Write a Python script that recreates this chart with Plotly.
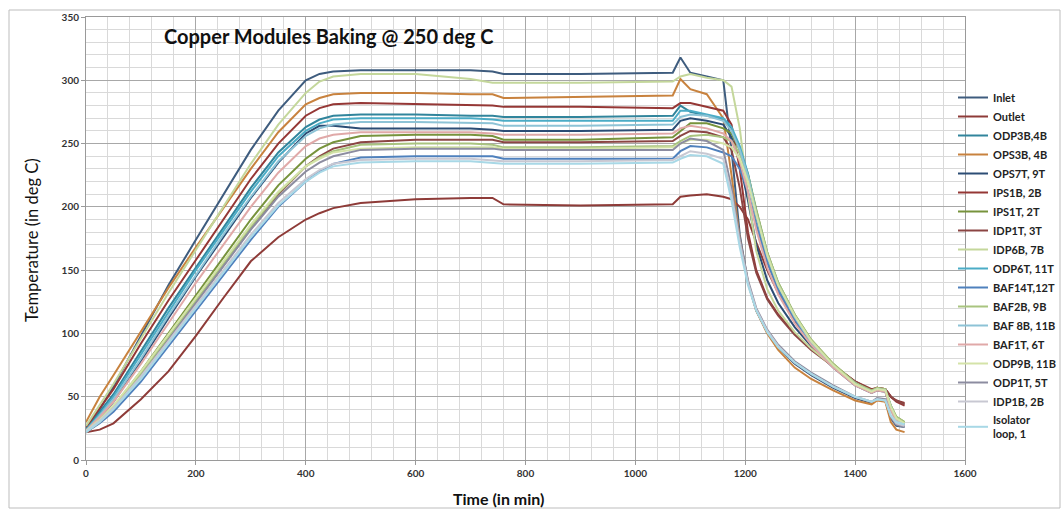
import plotly.graph_objects as go

# ---------------- data ----------------
time_min = [0, 25, 50, 100, 150, 200, 250, 300, 350, 400, 425, 450, 500,
            600, 700, 740, 760, 900, 1068,
            1082, 1100, 1130, 1160,
            1175, 1190, 1205, 1220, 1240, 1260, 1290, 1320, 1360, 1400, 1430, 1440, 1455, 1465, 1475, 1490]

inlet    = [24, 40, 58, 98, 138, 174, 210, 245, 276, 300, 305, 307, 308, 308, 308, 307, 305, 305, 306, 318, 306, 303, 300, 245, 178, 140, 118, 101, 89, 76, 67, 57, 49, 45, 48, 47, 33, 27, 26]
outlet   = [22, 24, 29, 48, 70, 98, 128, 157, 176, 190, 195, 199, 203, 206, 207, 207, 202, 201, 202, 208, 209, 210, 208, 206, 200, 190, 172, 150, 132, 110, 92, 75, 62, 56, 57, 56, 50, 47, 45]
odp3b_4b = [25, 38, 52, 86, 120, 152, 184, 215, 243, 263, 269, 272, 273, 273, 272, 272, 271, 271, 272, 280, 275, 272, 269, 262, 245, 222, 192, 160, 137, 112, 93, 74, 60, 54, 56, 55, 42, 33, 29]
ops3b_4b = [30, 50, 67, 101, 136, 168, 199, 230, 259, 281, 286, 289, 290, 290, 289, 289, 286, 287, 288, 301, 293, 289, 270, 225, 175, 140, 118, 100, 87, 73, 64, 55, 47, 44, 47, 46, 30, 24, 22]
ops7t_9t = [22, 33, 46, 78, 112, 145, 176, 207, 235, 258, 264, 264, 262, 262, 262, 261, 260, 260, 261, 268, 270, 268, 265, 255, 235, 205, 170, 142, 124, 105, 90, 73, 59, 53, 55, 54, 40, 31, 27]
ips1b_2b = [26, 41, 56, 92, 126, 158, 190, 222, 250, 272, 278, 281, 282, 281, 280, 280, 279, 279, 278, 282, 282, 279, 276, 265, 230, 180, 150, 128, 115, 100, 88, 75, 62, 55, 57, 56, 50, 46, 43]
ips1t_2t = [22, 31, 42, 70, 100, 130, 160, 190, 217, 238, 246, 251, 256, 257, 257, 256, 253, 253, 255, 260, 266, 266, 262, 258, 245, 226, 198, 164, 140, 115, 95, 76, 61, 55, 56, 55, 43, 34, 30]
idp1t_3t = [22, 30, 40, 66, 95, 124, 154, 183, 210, 232, 240, 246, 251, 253, 253, 253, 251, 251, 252, 256, 260, 259, 255, 245, 215, 175, 148, 127, 114, 99, 87, 74, 62, 55, 57, 56, 50, 47, 44]
idp6b_7b = [27, 44, 60, 96, 132, 166, 200, 234, 265, 290, 299, 303, 305, 305, 301, 298, 298, 298, 299, 303, 305, 302, 300, 295, 262, 210, 165, 135, 118, 101, 88, 74, 61, 54, 56, 55, 40, 31, 28]
odp6t_11t = [24, 36, 50, 83, 117, 150, 181, 212, 240, 260, 266, 269, 270, 270, 270, 269, 268, 268, 268, 276, 276, 273, 270, 263, 248, 226, 196, 163, 139, 114, 94, 75, 61, 54, 56, 55, 42, 33, 29]
baf14t_12t = [22, 29, 38, 62, 90, 118, 146, 174, 200, 220, 228, 234, 239, 240, 240, 240, 238, 238, 238, 244, 248, 247, 243, 240, 230, 212, 186, 156, 134, 111, 92, 74, 60, 54, 56, 55, 41, 32, 28]
baf2b_9b = [22, 30, 41, 68, 97, 126, 155, 184, 211, 232, 239, 244, 249, 250, 250, 249, 247, 247, 248, 252, 256, 257, 255, 252, 242, 224, 197, 164, 140, 115, 95, 76, 61, 55, 57, 56, 43, 34, 30]
baf8b_11b = [23, 35, 48, 80, 114, 146, 178, 208, 236, 256, 262, 265, 267, 267, 266, 266, 264, 264, 265, 271, 273, 272, 268, 260, 245, 224, 194, 161, 138, 113, 93, 74, 60, 54, 56, 55, 42, 32, 28]
baf1t_6t = [23, 34, 46, 76, 108, 140, 170, 200, 227, 248, 254, 257, 259, 259, 259, 258, 257, 257, 258, 262, 264, 262, 258, 252, 236, 212, 182, 152, 131, 108, 91, 73, 59, 53, 55, 54, 40, 31, 27]
odp9b_11b = [23, 32, 43, 70, 99, 128, 157, 186, 212, 232, 238, 243, 246, 247, 247, 247, 246, 246, 247, 250, 253, 253, 250, 247, 238, 220, 194, 162, 138, 114, 94, 75, 60, 54, 56, 55, 42, 33, 29]
odp1t_5t = [22, 30, 40, 66, 95, 124, 153, 182, 208, 228, 235, 240, 245, 246, 246, 246, 245, 245, 245, 250, 254, 252, 245, 215, 175, 142, 120, 103, 91, 78, 69, 59, 50, 46, 49, 48, 34, 28, 26]
idp1b_2b = [23, 31, 41, 66, 94, 122, 150, 178, 203, 222, 229, 234, 237, 238, 238, 237, 236, 236, 237, 240, 244, 242, 238, 210, 172, 140, 119, 102, 90, 77, 68, 58, 50, 46, 48, 47, 35, 29, 27]
isolator_loop = [22, 30, 40, 64, 92, 120, 148, 176, 201, 220, 227, 232, 235, 236, 236, 235, 234, 234, 235, 238, 241, 240, 234, 205, 168, 138, 118, 101, 89, 77, 68, 58, 50, 46, 48, 47, 35, 30, 28]

series_names = ["Inlet", "Outlet", "ODP3B,4B", "OPS3B, 4B", "OPS7T, 9T", "IPS1B, 2B",
                "IPS1T, 2T", "IDP1T, 3T", "IDP6B, 7B", "ODP6T, 11T", "BAF14T,12T",
                "BAF2B, 9B", "BAF 8B, 11B", "BAF1T, 6T", "ODP9B, 11B", "ODP1T, 5T",
                "IDP1B, 2B", "Isolator<br>loop, 1"]
series_values = [inlet, outlet, odp3b_4b, ops3b_4b, ops7t_9t, ips1b_2b, ips1t_2t, idp1t_3t,
                 idp6b_7b, odp6t_11t, baf14t_12t, baf2b_9b, baf8b_11b, baf1t_6t, odp9b_11b,
                 odp1t_5t, idp1b_2b, isolator_loop]
series_colors = ["#3E5C7E", "#8E3B38", "#31859C", "#C8823E", "#2C4D75", "#953735",
                 "#77933C", "#8B4543", "#C4D79B", "#4BACC6", "#4F81BD", "#A9C47F",
                 "#8DC3D6", "#E0A9A8", "#D4E3A8", "#8C8CA0", "#C8C8D2", "#A8D8E6"]

x_ticks = [0, 200, 400, 600, 800, 1000, 1200, 1400, 1600]
y_ticks = [0, 50, 100, 150, 200, 250, 300, 350]

# ---------------- figure ----------------
fig = go.Figure()
for name, vals, col in zip(series_names, series_values, series_colors):
    fig.add_trace(go.Scatter(x=time_min, y=vals, mode="lines", name=name,
                             line=dict(color=col, width=2)))

L, R, T, B = 86, 98, 17, 52
W, H = 1063, 512
pw, ph = W - L - R, H - T - B

def px_x(p):
    return (p - L) / pw

def px_y(p):
    return (H - B - p) / ph

tickfont = dict(family="Lato, Carlito, sans-serif", size=10, color="#333333", weight="bold")

fig.update_layout(
    width=W, height=H, autosize=False,
    margin=dict(l=L, r=R, t=T, b=B, autoexpand=False),
    paper_bgcolor="white", plot_bgcolor="white",
    showlegend=True,
    legend=dict(x=px_x(953), xanchor="left", y=px_y(83), yanchor="top",
                bgcolor="rgba(0,0,0,0)", borderwidth=0,
                font=dict(family="Lato, Carlito, sans-serif", size=11, color="#222222", weight="bold"),
                itemwidth=30),
    xaxis=dict(range=[0, 1600], tickvals=x_ticks, ticktext=[str(v) for v in x_ticks],
               showgrid=True, gridcolor="#A8A8A8", gridwidth=1,
               minor=dict(dtick=40, tick0=0, showgrid=True, gridcolor="#D9D9D9", gridwidth=1),
               showline=True, linecolor="#9A9A9A", linewidth=1, mirror=True,
               ticks="outside", ticklen=4, tickcolor="#9A9A9A",
               tickfont=tickfont, zeroline=False),
    yaxis=dict(range=[0, 350], tickvals=y_ticks, ticktext=[str(v) for v in y_ticks],
               showgrid=True, gridcolor="#A8A8A8", gridwidth=1,
               minor=dict(dtick=10, tick0=0, showgrid=True, gridcolor="#D9D9D9", gridwidth=1),
               showline=True, linecolor="#9A9A9A", linewidth=1, mirror=True,
               ticks="outside", ticklen=4, tickcolor="#9A9A9A",
               tickfont=tickfont, zeroline=False),
)

fig.add_annotation(text="<b>Copper Modules Baking @ 250 deg C</b>", xref="paper", yref="paper",
                   x=px_x(162), y=px_y(36), xanchor="left", yanchor="middle", showarrow=False,
                   font=dict(family="Lato, Carlito, sans-serif", size=20, color="#111111"))
fig.add_annotation(text="Time (in min)", xref="paper", yref="paper",
                   x=px_x(498), y=px_y(498), xanchor="center", yanchor="middle", showarrow=False,
                   font=dict(family="Lato, Carlito, sans-serif", size=16, color="#111111", weight="bold"))
fig.add_annotation(text="Temperature (in deg C)", xref="paper", yref="paper",
                   x=px_x(32), y=px_y(240), xanchor="center", yanchor="middle", showarrow=False,
                   textangle=-90,
                   font=dict(family="Lato, Carlito, sans-serif", size=16.5, color="#111111"))

fig.add_shape(type="rect", xref="paper", yref="paper",
              x0=px_x(9), x1=px_x(1060), y0=px_y(508), y1=px_y(10),
              line=dict(color="#BDBDBD", width=1), fillcolor="rgba(0,0,0,0)", layer="below")

fig.write_html("out.html")
